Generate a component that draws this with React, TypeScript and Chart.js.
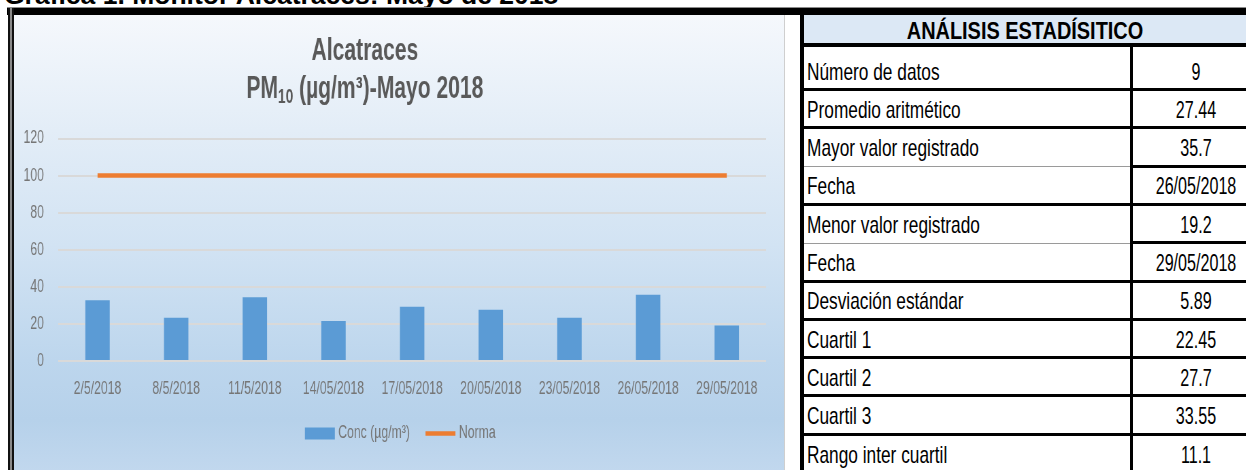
import React, { useEffect, useRef } from "react";
import { Chart, registerables } from "chart.js";

Chart.register(...registerables);

// ---------- data ----------
const pageHeading = "Gráfica 1. Monitor Alcatraces: Mayo de 2018";
const categories = [
  "2/5/2018",
  "8/5/2018",
  "11/5/2018",
  "14/05/2018",
  "17/05/2018",
  "20/05/2018",
  "23/05/2018",
  "26/05/2018",
  "29/05/2018",
];
const concValues = [32.7, 23.3, 34.4, 21.6, 29.2, 27.7, 23.3, 35.7, 19.2];
const normaValues = [100, 100, 100, 100, 100, 100, 100, 100, 100];
const barSeriesLabel = "Conc (µg/m³)";
const lineSeriesLabel = "Norma";
const yMin = 0;
const yMax = 120;
const yStep = 20;
const titleLine1 = "Alcatraces";
const titleLine2Main = "PM";
const titleLine2Sub = "10";
const titleLine2Rest = " (µg/m³)-Mayo 2018";

const tableHeading = "ANÁLISIS ESTADÍSITICO";
const statLabels = [
  "Número de datos",
  "Promedio aritmético",
  "Mayor valor registrado",
  "Fecha",
  "Menor valor registrado",
  "Fecha",
  "Desviación estándar",
  "Cuartil 1",
  "Cuartil 2",
  "Cuartil 3",
  "Rango inter cuartil",
];
const statValues = [
  "9",
  "27.44",
  "35.7",
  "26/05/2018",
  "19.2",
  "29/05/2018",
  "5.89",
  "22.45",
  "27.7",
  "33.55",
  "11.1",
];

// ---------- layout / style ----------
const K = 0.68; // horizontal compression of the picture
const FONT = '"Liberation Sans", Arial, Helvetica, sans-serif';
const CANVAS_W = 1134;
const CANVAS_H = 455;
const BAR_COLOR = "#5b9bd5";
const LINE_COLOR = "#ed7d31";
const TICK_COLOR = "#767676";

const titlePlugin = {
  id: "excelTitle",
  afterDraw(chart: any) {
    const ctx = chart.ctx as CanvasRenderingContext2D;
    ctx.save();
    ctx.fillStyle = "#595959";
    ctx.textBaseline = "alphabetic";
    const cx = 516;
    const big = `bold 31px ${FONT}`;
    const small = `bold 20px ${FONT}`;
    ctx.font = big;
    ctx.textAlign = "center";
    ctx.fillText(titleLine1, cx, 45);
    ctx.textAlign = "left";
    const w1 = ctx.measureText(titleLine2Main).width;
    const w3 = ctx.measureText(titleLine2Rest).width;
    ctx.font = small;
    const w2 = ctx.measureText(titleLine2Sub).width;
    let x = cx - (w1 + w2 + w3) / 2;
    const base = 83;
    ctx.font = big;
    ctx.fillText(titleLine2Main, x, base);
    x += w1;
    ctx.font = small;
    ctx.fillText(titleLine2Sub, x, base + 5);
    x += w2;
    ctx.font = big;
    ctx.fillText(titleLine2Rest, x, base);
    ctx.restore();
  },
};

const legendPlugin = {
  id: "excelLegend",
  afterDraw(chart: any) {
    const ctx = chart.ctx as CanvasRenderingContext2D;
    ctx.save();
    ctx.font = `18px ${FONT}`;
    ctx.textBaseline = "middle";
    ctx.textAlign = "left";
    const boxW = 44;
    const gap = 5;
    const itemGap = 23;
    const ds = chart.data.datasets;
    const widths = ds.map((d: any) => boxW + gap + ctx.measureText(d.label).width);
    const total = widths.reduce((a: number, b: number) => a + b, 0) + itemGap * (ds.length - 1);
    let x = 568 - total / 2;
    const y = 418.5;
    ds.forEach((d: any, i: number) => {
      if (d.type === "line") {
        ctx.strokeStyle = d.borderColor;
        ctx.lineWidth = 4.5;
        ctx.beginPath();
        ctx.moveTo(x, y);
        ctx.lineTo(x + boxW, y);
        ctx.stroke();
      } else {
        ctx.fillStyle = d.backgroundColor;
        ctx.fillRect(x, y - 6, boxW, 12);
      }
      ctx.fillStyle = TICK_COLOR;
      ctx.fillText(d.label, x + boxW + gap, y);
      x += widths[i] + itemGap;
    });
    ctx.restore();
  },
};

function ChartPanel() {
  const ref = useRef<HTMLCanvasElement>(null);
  useEffect(() => {
    const chart = new Chart(ref.current as HTMLCanvasElement, {
      type: "bar",
      data: {
        labels: categories,
        datasets: [
          {
            type: "bar",
            label: barSeriesLabel,
            data: concValues,
            backgroundColor: BAR_COLOR,
            barPercentage: 0.31,
            categoryPercentage: 1,
            order: 2,
          } as any,
          {
            type: "line",
            label: lineSeriesLabel,
            data: normaValues,
            borderColor: LINE_COLOR,
            backgroundColor: LINE_COLOR,
            borderWidth: 4.5,
            pointRadius: 0,
            fill: false,
            tension: 0,
            order: 1,
          } as any,
        ],
      },
      options: {
        responsive: false,
        maintainAspectRatio: false,
        animation: false,
        devicePixelRatio: 1,
        layout: { padding: { top: 123.5, right: 28, bottom: 0, left: 0 } },
        plugins: {
          legend: { display: false },
          title: { display: false },
          tooltip: { enabled: false },
        },
        scales: {
          x: {
            grid: { display: false, drawTicks: false },
            border: { display: false },
            ticks: {
              color: TICK_COLOR,
              font: { family: FONT, size: 18 },
              padding: 17,
              maxRotation: 0,
              autoSkip: false,
            },
            afterFit(s: any) {
              s.height = 109;
            },
          },
          y: {
            min: yMin,
            max: yMax,
            grid: { color: "#d9d9d9", lineWidth: 2, drawTicks: false },
            border: { display: false },
            ticks: {
              stepSize: yStep,
              color: TICK_COLOR,
              font: { family: FONT, size: 18 },
              padding: 21,
            },
            afterFit(s: any) {
              s.width = 65;
            },
          },
        },
      } as any,
      plugins: [titlePlugin, legendPlugin],
    });
    return () => chart.destroy();
  }, []);
  return (
    <canvas
      ref={ref}
      width={CANVAS_W}
      height={CANVAS_H}
      style={{
        position: "absolute",
        left: 0,
        top: 0,
        width: CANVAS_W,
        height: CANVAS_H,
        transform: `scaleX(${K})`,
        transformOrigin: "0 0",
      }}
    />
  );
}

const ROW_LINE_0 = 89.5;
const ROW_H = 38.3;
const THIN_LEFT = new Set([3, 5]); // rows whose top line is thin in the label column

function StatTable() {
  const els: React.ReactNode[] = [];
  statLabels.forEach((lab, i) => {
    const bottom = ROW_LINE_0 + ROW_H * i;
    const top = i === 0 ? 45 : bottom - ROW_H;
    const cy = bottom - 18;
    if (i > 0) {
      els.push(
        <div
          key={"ll" + i}
          style={{
            position: "absolute",
            left: 804,
            top: THIN_LEFT.has(i) ? top : top - 1.5,
            width: 326,
            height: THIN_LEFT.has(i) ? 1 : 3,
            background: THIN_LEFT.has(i) ? "#9a9a9a" : "#000",
          }}
        />
      );
      els.push(
        <div
          key={"rl" + i}
          style={{
            position: "absolute",
            left: 1130,
            top: top - 1.5,
            width: 130,
            height: 3,
            background: "#000",
          }}
        />
      );
    }
    els.push(
      <div
        key={"lab" + i}
        style={{
          position: "absolute",
          left: 807,
          top: cy,
          fontSize: 24,
          lineHeight: 1,
          whiteSpace: "nowrap",
          color: "#000",
          transform: "translateY(-50%) scaleX(0.72)",
          transformOrigin: "left center",
        }}
      >
        {lab}
      </div>
    );
    els.push(
      <div
        key={"val" + i}
        style={{
          position: "absolute",
          left: 1196,
          top: cy,
          fontSize: 23,
          lineHeight: 1,
          whiteSpace: "nowrap",
          color: "#000",
          transform: "translate(-50%, -50%) scaleX(0.7)",
        }}
      >
        {statValues[i]}
      </div>
    );
  });
  return (
    <>
      <div
        style={{
          position: "absolute",
          left: 804,
          top: 15,
          width: 460,
          height: 28,
          background: "#dce8f5",
        }}
      />
      <div
        style={{
          position: "absolute",
          left: 1025,
          top: 31,
          fontSize: 24,
          fontWeight: "bold",
          lineHeight: 1,
          whiteSpace: "nowrap",
          color: "#000",
          transform: "translate(-50%, -50%) scaleX(0.83)",
        }}
      >
        {tableHeading}
      </div>
      <div style={{ position: "absolute", left: 800, top: 43, width: 460, height: 4, background: "#000" }} />
      <div style={{ position: "absolute", left: 800, top: 8, width: 4, height: 470, background: "#000" }} />
      <div style={{ position: "absolute", left: 1130, top: 45, width: 3, height: 430, background: "#000" }} />
      {els}
    </>
  );
}

export default function App() {
  return (
    <div
      style={{
        position: "fixed",
        left: 0,
        top: 0,
        width: 1246,
        height: 470,
        overflow: "hidden",
        background: "#fff",
        fontFamily: FONT,
      }}
    >
      <div
        style={{
          position: "absolute",
          left: 4,
          top: -18,
          fontSize: 26.5,
          fontWeight: "bold",
          lineHeight: "26px",
          whiteSpace: "nowrap",
          color: "#000",
        }}
      >
        {pageHeading}
      </div>
      <div style={{ position: "absolute", left: 7, top: 7, width: 1239, height: 1, background: "#8a8a8a" }} />
      <div style={{ position: "absolute", left: 7, top: 8, width: 1239, height: 7, background: "#000" }} />
      <div
        style={{
          position: "absolute",
          left: 8,
          top: 8,
          width: 6,
          height: 470,
          background: "linear-gradient(to right, #111 0px, #111 2px, #8a8a8a 2px, #8a8a8a 4px, #111 4px, #111 6px)",
        }}
      />
      <div
        style={{
          position: "absolute",
          left: 14,
          top: 15,
          width: 771,
          height: 460,
          boxSizing: "border-box",
          borderRight: "1px solid #cfcfcf",
          background:
            "linear-gradient(180deg, #f5f8fc 0%, #e3edf7 25%, #d2e3f3 50%, #bdd6ed 75%, #b6d1ea 88%, #c2d8ee 100%)",
          overflow: "hidden",
        }}
      >
        <ChartPanel />
      </div>
      <StatTable />
    </div>
  );
}
